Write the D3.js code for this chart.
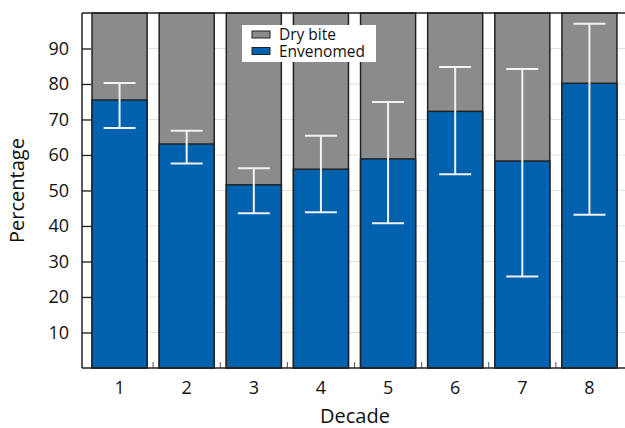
<!DOCTYPE html>
<html>
<head>
<meta charset="utf-8">
<script src="https://cdn.jsdelivr.net/npm/d3@7"></script>
<style>
  body { margin: 0; background: #fff; }
  svg { display: block; font-family: "Open Sans", "DejaVu Sans", sans-serif; }
</style>
</head>
<body>
<div id="chart"></div>
<script>
// Data
const decades = ["1", "2", "3", "4", "5", "6", "7", "8"];
const envenomed = [75.5, 63.1, 51.6, 56.0, 58.9, 72.3, 58.3, 80.2];
const errLow = [67.6, 57.6, 43.6, 43.9, 40.8, 54.6, 25.8, 43.2];
const errHigh = [80.3, 66.8, 56.3, 65.4, 74.9, 84.8, 84.2, 97.0];
const yTicks = [10, 20, 30, 40, 50, 60, 70, 80, 90];
const legendLabels = ["Dry bite", "Envenomed"];

const W = 625, H = 428;
const plotLeft = 82, plotTop = 13, plotBottom = 368, plotRight = 640;

const svg = d3.select("#chart")
    .append("svg")
    .attr("width", W)
    .attr("height", H);

// Scales
const x = d3.scaleBand()
    .domain(decades)
    .range([86, 623])
    .paddingInner(0.18)
    .paddingOuter(0.09);

const y = d3.scaleLinear()
    .domain([0, 100])
    .range([plotBottom, plotTop]);

const gray = "#8a8b8d", blue = "#0061ae";

// Grid lines
svg.append("g")
    .selectAll("line")
    .data(yTicks)
    .join("line")
    .attr("x1", plotLeft)
    .attr("x2", plotRight)
    .attr("y1", d => y(d))
    .attr("y2", d => y(d))
    .attr("stroke", "#e2e2e2")
    .attr("stroke-width", 1);

// Dry bite (full bar background)
svg.append("g")
    .selectAll("rect")
    .data(decades)
    .join("rect")
    .attr("x", d => x(d))
    .attr("y", y(100))
    .attr("width", x.bandwidth())
    .attr("height", y(0) - y(100))
    .attr("fill", gray)
    .attr("stroke", "#222")
    .attr("stroke-width", 1.5);

// Envenomed
svg.append("g")
    .selectAll("rect")
    .data(decades)
    .join("rect")
    .attr("x", d => x(d))
    .attr("y", (d, i) => y(envenomed[i]))
    .attr("width", x.bandwidth())
    .attr("height", (d, i) => y(0) - y(envenomed[i]))
    .attr("fill", blue)
    .attr("stroke", "#222")
    .attr("stroke-width", 1.5);

// Error bars
const eb = svg.append("g")
    .attr("stroke", "#f2f2f2")
    .attr("stroke-width", 2);
decades.forEach((d, i) => {
    const cx = x(d) + x.bandwidth() / 2;
    eb.append("line")
        .attr("x1", cx).attr("x2", cx)
        .attr("y1", y(errLow[i])).attr("y2", y(errHigh[i]));
    [errLow[i], errHigh[i]].forEach(v => {
        eb.append("line")
            .attr("x1", cx - 16).attr("x2", cx + 16)
            .attr("y1", y(v)).attr("y2", y(v));
    });
});

// Y axis (ticks inward)
const yAxis = svg.append("g")
    .attr("transform", `translate(${plotLeft},0)`)
    .call(d3.axisLeft(y).tickValues(yTicks).tickSize(-9).tickPadding(13));
yAxis.select(".domain").remove();
yAxis.selectAll(".tick line").attr("stroke", "#222").attr("stroke-width", 1.3);
yAxis.selectAll("text").attr("font-size", 18).attr("fill", "#111")
    .attr("font-family", "Open Sans");

// X axis
const xAxis = svg.append("g")
    .attr("transform", `translate(0,${plotBottom})`)
    .call(d3.axisBottom(x).tickSize(0).tickPadding(13));
xAxis.select(".domain").remove();
xAxis.selectAll("text").attr("font-size", 18).attr("fill", "#111")
    .attr("font-family", "Open Sans");

// Minor ticks between bars
svg.append("g")
    .selectAll("line")
    .data(decades.slice(1))
    .join("line")
    .attr("x1", d => x(d) - x.step() * x.paddingInner() / 2)
    .attr("x2", d => x(d) - x.step() * x.paddingInner() / 2)
    .attr("y1", plotBottom)
    .attr("y2", plotBottom - 6)
    .attr("stroke", "#555")
    .attr("stroke-width", 1);

// Frame
svg.append("line").attr("x1", plotLeft).attr("x2", plotLeft).attr("y1", plotTop).attr("y2", plotBottom)
    .attr("stroke", "#222").attr("stroke-width", 1.5);
svg.append("line").attr("x1", plotLeft).attr("x2", plotRight).attr("y1", plotBottom).attr("y2", plotBottom)
    .attr("stroke", "#222").attr("stroke-width", 1.5);
svg.append("line").attr("x1", plotLeft).attr("x2", plotRight).attr("y1", plotTop).attr("y2", plotTop)
    .attr("stroke", "#222").attr("stroke-width", 1.5);

// Legend
const lg = svg.append("g").attr("transform", "translate(242,25)");
lg.append("rect").attr("width", 134).attr("height", 37).attr("fill", "#fff");
[gray, blue].forEach((c, i) => {
    lg.append("rect")
        .attr("x", 10).attr("y", 6 + i * 16.5)
        .attr("width", 18).attr("height", 7)
        .attr("fill", c).attr("stroke", "#222").attr("stroke-width", 1);
    lg.append("text")
        .attr("x", 37).attr("y", 15 + i * 16.5)
        .attr("font-size", 15.5).attr("fill", "#111")
        .text(legendLabels[i]);
});

// Axis titles
svg.append("text")
    .attr("transform", `translate(24,${(plotTop + plotBottom) / 2}) rotate(-90)`)
    .attr("text-anchor", "middle")
    .attr("font-size", 20).attr("fill", "#111")
    .text("Percentage");

svg.append("text")
    .attr("x", 355).attr("y", 423)
    .attr("text-anchor", "middle")
    .attr("font-size", 20).attr("fill", "#111")
    .text("Decade");
</script>
</body>
</html>
